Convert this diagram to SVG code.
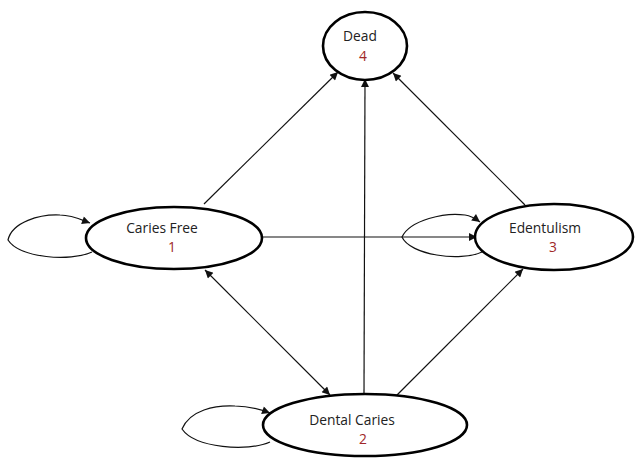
<svg xmlns="http://www.w3.org/2000/svg" width="635" height="458" viewBox="0 0 635 458">
<defs>
<marker id="arr" viewBox="0 0 10 10" refX="10" refY="5" markerWidth="10" markerHeight="8" markerUnits="userSpaceOnUse" orient="auto-start-reverse">
<path d="M0,0 L10,5 L0,10 z" fill="#111"/>
</marker>
</defs>
<style>
.node{fill:#fff;stroke:#000;stroke-width:2.6}
.lbl{font-family:"Open Sans","Liberation Sans",sans-serif;font-size:13.8px;fill:#222;text-anchor:middle}
.num{font-family:"Open Sans","Liberation Sans",sans-serif;font-size:13.8px;fill:#a02828;text-anchor:middle}
.edge{fill:none;stroke:#111;stroke-width:1.2}
</style>
<rect width="635" height="458" fill="#fff"/>
<g id="connectors">
<line class="edge" x1="204" y1="204" x2="338" y2="72" marker-end="url(#arr)"/>
<line class="edge" x1="364" y1="394" x2="365" y2="79" marker-end="url(#arr)"/>
<line class="edge" x1="525" y1="205" x2="393" y2="73" marker-end="url(#arr)"/>
<line class="edge" x1="262" y1="237" x2="477" y2="237" marker-end="url(#arr)"/>
<line class="edge" x1="205" y1="270" x2="330" y2="395" marker-start="url(#arr)" marker-end="url(#arr)"/>
<line class="edge" x1="395" y1="397" x2="523" y2="269" marker-end="url(#arr)"/>
<path class="edge" d="M92,252 C70,262 20,258 8,240 C12,222 40,214 60,215 C72,215 82,220 90,223" marker-end="url(#arr)"/>
<path class="edge" d="M482,252 C460,262 410,255 402,237 C410,220 445,212 465,215 C472,216 476,219 480,222" marker-end="url(#arr)"/>
<path class="edge" d="M270,442 C248,452 195,448 182,429 C190,410 215,405 235,406 C250,406 262,410 270,413" marker-end="url(#arr)"/>
</g>
<g id="node-dead">
<ellipse class="node" cx="365" cy="46" rx="42" ry="34"/>
<text class="lbl" x="360" y="41">Dead</text>
<text class="num" x="363" y="61">4</text>
</g>
<g id="node-caries-free">
<ellipse class="node" cx="174" cy="238" rx="88" ry="31"/>
<text class="lbl" x="162" y="233">Caries Free</text>
<text class="num" x="172" y="252">1</text>
</g>
<g id="node-edentulism">
<ellipse class="node" cx="554" cy="237" rx="79" ry="33"/>
<text class="lbl" x="545" y="233">Edentulism</text>
<text class="num" x="553" y="252">3</text>
</g>
<g id="node-dental-caries">
<ellipse class="node" cx="365" cy="425" rx="102" ry="31"/>
<text class="lbl" x="352" y="425">Dental Caries</text>
<text class="num" x="363" y="444">2</text>
</g>
</svg>
